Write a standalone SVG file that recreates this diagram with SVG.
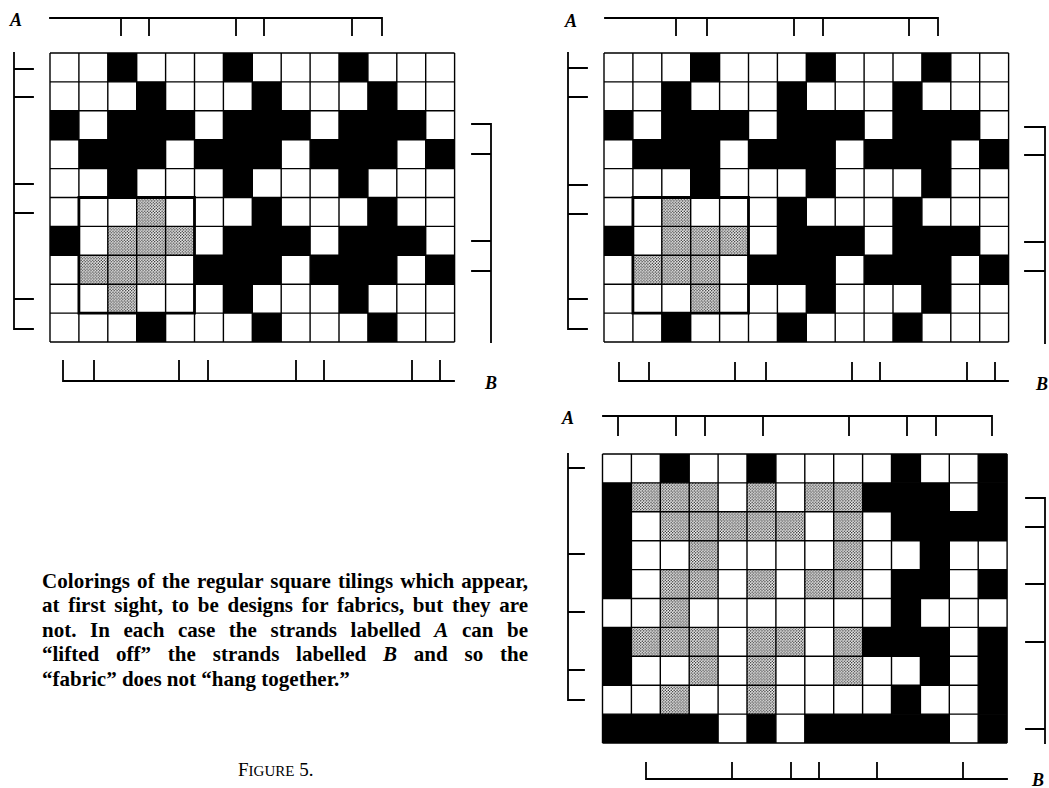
<svg xmlns="http://www.w3.org/2000/svg" width="1049" height="788" viewBox="0 0 1049 788">
<style>
.b{fill:#000}
.s{fill:url(#dots)}
.gl{fill:none;stroke:#000;stroke-width:1.4;vector-effect:non-scaling-stroke}
.box{fill:none;stroke:#000;stroke-width:2.8;vector-effect:non-scaling-stroke}
.br{fill:none;stroke:#000;stroke-width:1.8;stroke-linecap:square}
.lbl{font-family:"Liberation Serif",serif;font-weight:bold;font-style:italic;font-size:18px;fill:#000}
.cap{font-family:"Liberation Serif",serif;font-weight:bold;font-size:21px;fill:#000}
.fig{font-family:"Liberation Serif",serif;font-size:19px;fill:#000}
</style>
<defs>
<pattern id="dots" patternUnits="userSpaceOnUse" width="0.1" height="0.1">
<rect width="0.1" height="0.1" fill="#fff"/>
<circle cx="0.025" cy="0.025" r="0.024" fill="#000"/>
<circle cx="0.075" cy="0.075" r="0.024" fill="#000"/>
</pattern>
</defs>
<rect width="1049" height="788" fill="#fff"/>

<g id="grid1" transform="translate(50,53) scale(28.9)">
<rect width="14" height="10" fill="#fff"/>
<rect class="b" x="2" y="0" width="1" height="1"/><rect class="b" x="6" y="0" width="1" height="1"/><rect class="b" x="10" y="0" width="1" height="1"/>
<rect class="b" x="3" y="1" width="1" height="1"/><rect class="b" x="7" y="1" width="1" height="1"/><rect class="b" x="11" y="1" width="1" height="1"/>
<rect class="b" x="0" y="2" width="1" height="1"/><rect class="b" x="2" y="2" width="3" height="1"/><rect class="b" x="6" y="2" width="3" height="1"/><rect class="b" x="10" y="2" width="3" height="1"/>
<rect class="b" x="1" y="3" width="3" height="1"/><rect class="b" x="5" y="3" width="3" height="1"/><rect class="b" x="9" y="3" width="3" height="1"/><rect class="b" x="13" y="3" width="1" height="1"/>
<rect class="b" x="2" y="4" width="1" height="1"/><rect class="b" x="6" y="4" width="1" height="1"/><rect class="b" x="10" y="4" width="1" height="1"/>
<rect class="b" x="7" y="5" width="1" height="1"/><rect class="b" x="11" y="5" width="1" height="1"/>
<rect class="b" x="0" y="6" width="1" height="1"/><rect class="b" x="6" y="6" width="3" height="1"/><rect class="b" x="10" y="6" width="3" height="1"/>
<rect class="b" x="5" y="7" width="3" height="1"/><rect class="b" x="9" y="7" width="3" height="1"/><rect class="b" x="13" y="7" width="1" height="1"/>
<rect class="b" x="6" y="8" width="1" height="1"/><rect class="b" x="10" y="8" width="1" height="1"/>
<rect class="b" x="3" y="9" width="1" height="1"/><rect class="b" x="7" y="9" width="1" height="1"/><rect class="b" x="11" y="9" width="1" height="1"/>
<rect class="s" x="3" y="5" width="1" height="1"/><rect class="s" x="2" y="6" width="3" height="1"/><rect class="s" x="1" y="7" width="3" height="1"/><rect class="s" x="2" y="8" width="1" height="1"/>
<path class="gl" d="M0,0V10M1,0V10M2,0V10M3,0V10M4,0V10M5,0V10M6,0V10M7,0V10M8,0V10M9,0V10M10,0V10M11,0V10M12,0V10M13,0V10M14,0V10M0,0H14M0,1H14M0,2H14M0,3H14M0,4H14M0,5H14M0,6H14M0,7H14M0,8H14M0,9H14M0,10H14"/>
<rect class="box" x="1" y="5" width="4" height="4"/>
</g>

<g id="grid2" transform="translate(604,53) scale(28.9)">
<rect width="14" height="10" fill="#fff"/>
<rect class="b" x="3" y="0" width="1" height="1"/><rect class="b" x="7" y="0" width="1" height="1"/><rect class="b" x="11" y="0" width="1" height="1"/>
<rect class="b" x="2" y="1" width="1" height="1"/><rect class="b" x="6" y="1" width="1" height="1"/><rect class="b" x="10" y="1" width="1" height="1"/>
<rect class="b" x="0" y="2" width="1" height="1"/><rect class="b" x="2" y="2" width="3" height="1"/><rect class="b" x="6" y="2" width="3" height="1"/><rect class="b" x="10" y="2" width="3" height="1"/>
<rect class="b" x="1" y="3" width="3" height="1"/><rect class="b" x="5" y="3" width="3" height="1"/><rect class="b" x="9" y="3" width="3" height="1"/><rect class="b" x="13" y="3" width="1" height="1"/>
<rect class="b" x="3" y="4" width="1" height="1"/><rect class="b" x="7" y="4" width="1" height="1"/><rect class="b" x="11" y="4" width="1" height="1"/>
<rect class="b" x="6" y="5" width="1" height="1"/><rect class="b" x="10" y="5" width="1" height="1"/>
<rect class="b" x="0" y="6" width="1" height="1"/><rect class="b" x="6" y="6" width="3" height="1"/><rect class="b" x="10" y="6" width="3" height="1"/>
<rect class="b" x="5" y="7" width="3" height="1"/><rect class="b" x="9" y="7" width="3" height="1"/><rect class="b" x="13" y="7" width="1" height="1"/>
<rect class="b" x="7" y="8" width="1" height="1"/><rect class="b" x="11" y="8" width="1" height="1"/>
<rect class="b" x="2" y="9" width="1" height="1"/><rect class="b" x="6" y="9" width="1" height="1"/><rect class="b" x="10" y="9" width="1" height="1"/>
<rect class="s" x="2" y="5" width="1" height="1"/><rect class="s" x="2" y="6" width="3" height="1"/><rect class="s" x="1" y="7" width="3" height="1"/><rect class="s" x="3" y="8" width="1" height="1"/>
<path class="gl" d="M0,0V10M1,0V10M2,0V10M3,0V10M4,0V10M5,0V10M6,0V10M7,0V10M8,0V10M9,0V10M10,0V10M11,0V10M12,0V10M13,0V10M14,0V10M0,0H14M0,1H14M0,2H14M0,3H14M0,4H14M0,5H14M0,6H14M0,7H14M0,8H14M0,9H14M0,10H14"/>
<rect class="box" x="1" y="5" width="4" height="4"/>
</g>

<g id="grid3" transform="translate(602.5,454) scale(28.9)">
<rect width="14" height="10" fill="#fff"/>
<rect class="b" x="2" y="0" width="1" height="1"/><rect class="b" x="5" y="0" width="1" height="1"/><rect class="b" x="10" y="0" width="1" height="1"/><rect class="b" x="13" y="0" width="1" height="1"/>
<rect class="b" x="0" y="1" width="1" height="1"/><rect class="b" x="9" y="1" width="3" height="1"/><rect class="b" x="13" y="1" width="1" height="1"/>
<rect class="b" x="0" y="2" width="1" height="1"/><rect class="b" x="10" y="2" width="4" height="1"/>
<rect class="b" x="0" y="3" width="1" height="1"/><rect class="b" x="11" y="3" width="1" height="1"/>
<rect class="b" x="0" y="4" width="1" height="1"/><rect class="b" x="10" y="4" width="2" height="1"/><rect class="b" x="13" y="4" width="1" height="1"/>
<rect class="b" x="10" y="5" width="1" height="1"/>
<rect class="b" x="0" y="6" width="1" height="1"/><rect class="b" x="9" y="6" width="3" height="1"/><rect class="b" x="13" y="6" width="1" height="1"/>
<rect class="b" x="0" y="7" width="1" height="1"/><rect class="b" x="11" y="7" width="1" height="1"/><rect class="b" x="13" y="7" width="1" height="1"/>
<rect class="b" x="10" y="8" width="1" height="1"/><rect class="b" x="13" y="8" width="1" height="1"/>
<rect class="b" x="0" y="9" width="4" height="1"/><rect class="b" x="5" y="9" width="1" height="1"/><rect class="b" x="7" y="9" width="5" height="1"/><rect class="b" x="13" y="9" width="1" height="1"/>
<rect class="s" x="1" y="1" width="3" height="1"/><rect class="s" x="5" y="1" width="1" height="1"/><rect class="s" x="7" y="1" width="2" height="1"/>
<rect class="s" x="2" y="2" width="5" height="1"/><rect class="s" x="8" y="2" width="1" height="1"/>
<rect class="s" x="3" y="3" width="1" height="1"/><rect class="s" x="8" y="3" width="1" height="1"/>
<rect class="s" x="2" y="4" width="2" height="1"/><rect class="s" x="5" y="4" width="1" height="1"/><rect class="s" x="7" y="4" width="2" height="1"/>
<rect class="s" x="2" y="5" width="1" height="1"/>
<rect class="s" x="1" y="6" width="3" height="1"/><rect class="s" x="5" y="6" width="2" height="1"/><rect class="s" x="8" y="6" width="1" height="1"/>
<rect class="s" x="3" y="7" width="1" height="1"/><rect class="s" x="5" y="7" width="1" height="1"/><rect class="s" x="8" y="7" width="1" height="1"/>
<rect class="s" x="2" y="8" width="1" height="1"/><rect class="s" x="5" y="8" width="1" height="1"/>
<path class="gl" d="M0,0V10M1,0V10M2,0V10M3,0V10M4,0V10M5,0V10M6,0V10M7,0V10M8,0V10M9,0V10M10,0V10M11,0V10M12,0V10M13,0V10M14,0V10M0,0H14M0,1H14M0,2H14M0,3H14M0,4H14M0,5H14M0,6H14M0,7H14M0,8H14M0,9H14M0,10H14"/>
</g>

<g id="connectors">
<path class="br" d="M50,18H382V35M121,18V35M149,18V35M236,18V35M264,18V35M352,18V35"/>
<path class="br" d="M14,53V329H33M14,69H33M14,97H33M14,184H33M14,213H33M14,299H33"/>
<path class="br" d="M472,124H491V342M472,154H491M472,241H491M472,271H491"/>
<path class="br" d="M63,361V381H454M94,361V381M179,361V381M208,361V381M296,361V381M324,361V381M412,361V381M440,361V381"/>

<path class="br" d="M605,18H938V35M676,18V35M707,18V35M794,18V35M823,18V35M909,18V35"/>
<path class="br" d="M568,53V329H587M568,68H587M568,97H587M568,185H587M568,214H587M568,299H587"/>
<path class="br" d="M1025,127H1045V343M1025,155H1045M1025,242H1045M1025,271H1045"/>
<path class="br" d="M619,363V381H1008M649,363V381M735,363V381M766,363V381M852,363V381M880,363V381M967,363V381M995,363V381"/>

<path class="br" d="M603,416H992V435M618,416V435M676,416V435M705,416V435M763,416V435M849,416V435M907,416V435M936,416V435"/>
<path class="br" d="M568,454V700H584M568,468H584M568,554H584M568,612H584M568,670H584"/>
<path class="br" d="M1026,498H1045V743M1026,527H1045M1026,584H1045M1026,642H1045M1026,729H1045"/>
<path class="br" d="M646,763V779H1007M732,763V779M791,763V779M819,763V779M877,763V779M963,763V779"/>
</g>

<g id="labels">
<text class="lbl" x="10" y="26">A</text>
<text class="lbl" x="485" y="389">B</text>
<text class="lbl" x="565" y="27">A</text>
<text class="lbl" x="1036" y="390">B</text>
<text class="lbl" x="562" y="424">A</text>
<text class="lbl" x="1032" y="786">B</text>
</g>

<g id="caption">
<text class="cap" x="42" y="588" word-spacing="1.7" textLength="486" lengthAdjust="spacing">Colorings of the regular square tilings which appear,</text>
<text class="cap" x="42" y="612" word-spacing="3.4" textLength="486" lengthAdjust="spacing">at first sight, to be designs for fabrics, but they are</text>
<text class="cap" x="42" y="637" word-spacing="8.3" textLength="486" lengthAdjust="spacing">not. In each case the strands labelled <tspan font-style="italic">A</tspan> can be</text>
<text class="cap" x="42" y="661" word-spacing="11.5" textLength="486" lengthAdjust="spacing">“lifted off” the strands labelled <tspan font-style="italic">B</tspan> and so the</text>
<text class="cap" x="42" y="686">“fabric” does not “hang together.”</text>
<text class="fig" x="238" y="776">F<tspan font-size="15">IGURE</tspan> 5.</text>
</g>
</svg>
